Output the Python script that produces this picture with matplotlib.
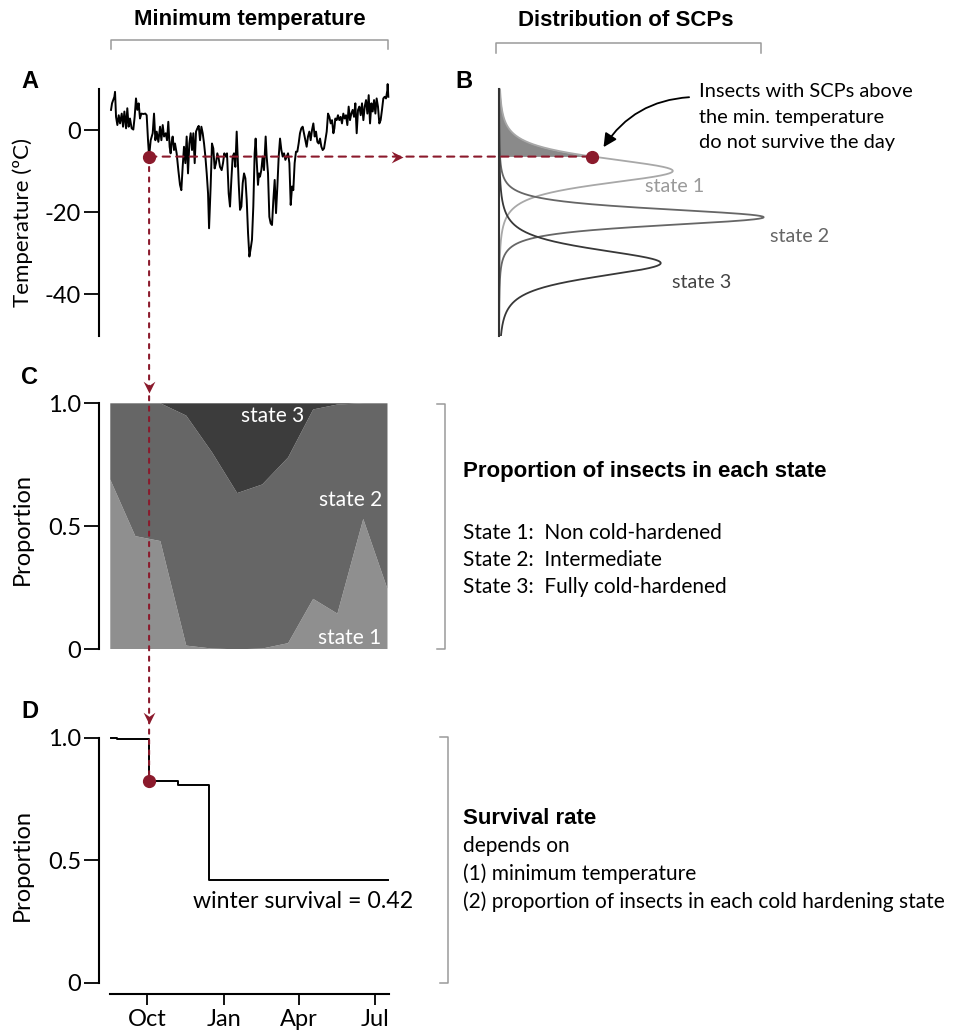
import numpy as np
import matplotlib.pyplot as plt
from matplotlib.patches import ConnectionPatch
from matplotlib.lines import Line2D
from matplotlib.path import Path
from matplotlib.markers import MarkerStyle

plt.rcParams['font.family'] = ['Lato', 'DejaVu Sans']
plt.rcParams['axes.unicode_minus'] = False

# daily minimum temperature (days counted from 1 Oct)
temp_day = [-43.1, -41.9, -39.1, -38.3, -37.1, -35.5, -33.9, -32.3, -30.3, -28.7,
            -27.1, -25.1, -23.6, -22.0, -20.4, -18.4, -16.4, -14.8, -13.2, -11.6,
            -10.0, -8.4, -6.8, -4.4, -2.0, -0.4, 1.2, 2.5, 4.4, 6.8,
            8.4, 10.0, 11.6, 13.6, 15.6, 17.2, 18.8, 20.4, 22.4, 24.0,
            25.5, 27.1, 28.3, 29.5, 30.7, 32.3, 33.5, 35.5, 37.5, 39.5,
            41.1, 42.7, 44.3, 45.9, 47.5, 49.1, 50.7, 52.3, 53.9, 55.5,
            57.1, 58.7, 60.3, 61.9, 63.5, 65.1, 66.7, 68.3, 69.9, 71.5,
            73.1, 74.3, 76.2, 77.8, 79.4, 81.0, 82.6, 84.2, 85.8, 87.4,
            89.4, 91.0, 92.6, 94.2, 95.8, 97.8, 99.4, 101.0, 102.6, 104.2,
            105.8, 107.4, 108.6, 109.8, 111.4, 113.0, 114.6, 116.2, 117.8, 119.4,
            121.0, 122.6, 124.2, 125.7, 127.3, 128.9, 130.1, 131.3, 132.9, 134.1,
            135.3, 136.9, 138.5, 140.1, 142.1, 143.3, 144.9, 146.5, 148.1, 149.7,
            151.3, 152.9, 154.5, 156.1, 157.7, 159.3, 160.9, 162.5, 164.1, 165.7,
            167.3, 168.9, 170.5, 172.1, 173.7, 175.2, 176.8, 178.4, 180.0, 181.6,
            183.2, 184.8, 186.4, 188.0, 189.6, 191.2, 192.8, 194.4, 196.0, 197.6,
            199.2, 200.8, 202.4, 204.0, 205.6, 207.2, 208.8, 210.4, 212.0, 213.6,
            215.2, 216.8, 218.4, 220.0, 221.6, 223.2, 224.4, 225.5, 227.1, 228.7,
            230.3, 231.9, 233.5, 235.1, 236.7, 238.3, 239.9, 241.5, 243.1, 244.7,
            246.3, 247.9, 249.5, 251.1, 252.7, 254.3, 255.9, 257.5, 259.1, 260.7,
            262.3, 263.9, 265.5, 267.1, 268.7, 270.3, 271.9, 273.5, 275.0, 276.6,
            278.2, 279.8, 281.4, 283.0, 284.6, 286.2, 287.8, 288.2, 289.0]
temp_min = [5.0, 6.6, 8.2, 9.4, 3.3, 1.3, 3.7, 1.7, 4.1, 0.9,
            4.6, 0.5, 5.4, 0.9, 2.9, 0.5, 0.2, 3.3, 7.8, 5.0,
            6.6, 2.9, 4.1, 4.0, 4.1, 3.7, -2.4, -6.4, -2.4, -0.7,
            4.1, -2.4, -0.3, -2.8, 0.9, -2.4, 1.3, -1.5, -0.7, -2.4,
            2.1, -4.0, -5.6, -2.8, -1.5, -4.8, -3.2, -5.6, -9.7, -13.3,
            -14.6, -8.9, -4.0, -8.0, -1.5, -10.5, -3.2, -0.7, -4.8, -0.7,
            -8.0, -0.3, 0.5, 1.1, -2.4, 0.9, -0.7, -3.2, -6.4, -10.5,
            -15.4, -23.9, -13.7, -3.2, -4.4, -9.3, -8.0, -5.6, -6.8, -8.9,
            -9.7, -8.0, -5.6, -6.4, -5.6, -15.4, -18.6, -12.1, -6.4, -5.6,
            -8.9, -0.3, -6.4, -12.9, -19.4, -18.6, -12.9, -10.5, -11.7, -17.0,
            -25.1, -30.8, -28.8, -26.7, -18.6, -5.6, -2.0, -7.2, -13.3, -10.5,
            -11.3, -9.7, -6.4, -9.7, -1.5, -6.4, -10.5, -21.1, -22.7, -23.1,
            -17.0, -12.1, -20.2, -13.7, -6.4, -2.0, -4.8, -6.4, -5.6, -7.2,
            -6.4, -5.6, -8.0, -18.2, -13.7, -14.6, -8.0, -5.2, -5.2, -3.2,
            -0.7, 0.5, 0.9, -0.7, -2.4, -4.0, -1.5, -0.3, -2.4, 0.1,
            1.7, -1.5, -0.3, -2.8, -3.2, -2.0, -4.0, -4.8, -4.4, -2.4,
            -0.3, 4.1, 3.3, 1.7, 2.5, -0.7, 0.5, 2.9, 2.5, 3.7,
            2.5, 3.3, 1.7, 4.1, 2.9, 3.7, 1.3, 5.8, 2.5, 4.1,
            5.0, 3.3, 6.6, -0.7, 5.0, 5.8, 3.7, 6.6, 2.5, 5.8,
            7.4, 4.1, 8.6, 1.7, 6.6, 4.6, 7.4, 4.1, 7.8, 5.8,
            1.7, 2.5, 5.0, 7.8, 8.2, 7.8, 9.8, 11.3, 8.2]

# day picked out in the example and its minimum temperature
pick_day = 2.5
pick_temp = -6.4

# supercooling point distributions (location, scale) for each state
scp_loc = [-9.9, -21.2, -32.4]
scp_scale = [3.35, 2.2, 3.6]
scp_names = ['state 1', 'state 2', 'state 3']

# monthly proportion of insects in each cold-hardening state
state_day = [-44, -14, 16, 47, 78, 108, 138, 169, 199, 228, 259, 288]
state1 = [0.69, 0.46, 0.44, 0.015, 0.003, 0.0, 0.003, 0.025, 0.205, 0.145, 0.53, 0.245]
state2 = [0.31, 0.54, 0.56, 0.935, 0.797, 0.635, 0.667, 0.755, 0.77, 0.85, 0.47, 0.755]
state3 = [0.0, 0.0, 0.0, 0.05, 0.2, 0.365, 0.33, 0.22, 0.025, 0.005, 0.0, 0.0]

# cumulative survival
surv_day = [-43, -36, 2.5, 37.5, 74, 289]
surv = [1.0, 0.995, 0.824, 0.805, 0.42, 0.42]

month_day = [0, 92, 182, 273]
month_lab = ['Oct', 'Jan', 'Apr', 'Jul']

RED = '#8b1a2c'
W, H = 968, 1036
fig = plt.figure(figsize=(W / 100, H / 100), dpi=100)


def rect(x0, y0, x1, y1):
    return [x0 / W, 1 - y1 / H, (x1 - x0) / W, (y1 - y0) / H]


def fx(x):
    return x / W


def fy(y):
    return 1 - y / H


def t3(y, loc, scale):
    z = (np.asarray(y) - loc) / scale
    return 2 / (np.pi * np.sqrt(3)) / scale * (1 + z * z / 3) ** -2


def clean(ax):
    for s in ['top', 'right', 'bottom']:
        ax.spines[s].set_visible(False)
    ax.spines['left'].set_linewidth(1.5)
    ax.tick_params(axis='y', length=11, width=1.3, labelsize=17, pad=2)
    ax.set_xticks([])
    ax.patch.set_alpha(0)


XLIM = (-57.5, 292.2)
TLIM = (-50.2, 12.3)

# A: minimum temperature
axA = fig.add_axes(rect(99, 80, 391, 336))
clean(axA)
axA.plot(temp_day, temp_min, color='black', lw=1.4, clip_on=False)
axA.plot(pick_day, pick_temp, 'o', color=RED, ms=8.5, zorder=5, clip_on=False)
axA.set_xlim(XLIM)
axA.set_ylim(TLIM)
axA.spines['left'].set_bounds(-50.2, 10)
axA.set_yticks([0, -20, -40])
axA.set_ylabel('Temperature (ºC)', fontsize=16)
axA.yaxis.set_label_coords(-0.225, 0.445)

# B: SCP distributions
axB = fig.add_axes(rect(499, 80, 800, 336))
clean(axB)
axB.spines['left'].set_color('#333333')
axB.set_yticks([])
axB.set_xlim(0, 0.19)
axB.set_ylim(TLIM)
axB.spines['left'].set_bounds(-50.2, 10)
yy = np.linspace(-50.2, 10, 800)
line_cols = ['#a8a8a8', '#666666', '#383838']
text_cols = ['#9a9a9a', '#666666', '#444444']
label_pos = [(0.111, -13.6), (0.1895, -26.0), (0.1277, -37.2)]
top = yy[yy >= pick_temp]
axB.fill_betweenx(top, 0, t3(top, scp_loc[0], scp_scale[0]), color='#8a8a8a', lw=0)
for i in range(3):
    axB.plot(t3(yy, scp_loc[i], scp_scale[i]), yy, color=line_cols[i], lw=1.3)
    axB.text(label_pos[i][0], label_pos[i][1], scp_names[i], color=text_cols[i],
             fontsize=14.2, ha='center', va='center')
dot_x = float(t3(pick_temp, scp_loc[0], scp_scale[0]))
axB.plot(dot_x, pick_temp, 'o', color=RED, ms=8.5, zorder=5)
axB.annotate('', xy=(dot_x + 0.007, pick_temp + 2.3), xytext=(0.120, 8.1),
             arrowprops=dict(arrowstyle='-|>', color='black', lw=1.3,
                             connectionstyle='arc3,rad=0.25', mutation_scale=20,
                             shrinkA=0, shrinkB=0))
axB.text(0.126, 3.2, 'Insects with SCPs above\nthe min. temperature\ndo not survive the day',
         fontsize=14.4, ha='left', va='center', linespacing=1.6)

# C: proportion in each state
axC = fig.add_axes(rect(99, 403.3, 391, 649.3))
clean(axC)
axC.stackplot(state_day, state1, state2, state3,
              colors=['#8f8f8f', '#666666', '#3c3c3c'], lw=0)
axC.set_xlim(XLIM)
axC.set_ylim(0, 1)
axC.set_yticks([0, 0.5, 1.0])
axC.set_yticklabels(['0', '0.5', '1.0'])
axC.set_ylabel('Proportion', fontsize=17)
axC.yaxis.set_label_coords(-0.225, 0.489)
axC.text(151, 0.948, 'state 3', color='white', fontsize=15, ha='center', va='center')
axC.text(244, 0.607, 'state 2', color='white', fontsize=15, ha='center', va='center')
axC.text(243, 0.046, 'state 1', color='white', fontsize=15, ha='center', va='center')

# D: survival
axD = fig.add_axes(rect(99, 730, 391, 994))
clean(axD)
axD.plot(surv_day, surv, drawstyle='steps-post', color='black', lw=1.4)
axD.plot(surv_day[2], surv[2], 'o', color=RED, ms=8.5, zorder=5)
axD.set_xlim(XLIM)
axD.set_ylim(-0.046, 1.031)
axD.spines['left'].set_bounds(0, 1)
axD.spines['bottom'].set_visible(True)
axD.spines['bottom'].set_linewidth(1.5)
axD.spines['bottom'].set_bounds(-44, 290)
axD.set_yticks([0, 0.5, 1.0])
axD.set_yticklabels(['0', '0.5', '1.0'])
axD.set_xticks(month_day)
axD.set_xticklabels(month_lab)
axD.tick_params(axis='x', length=8, width=1.3, labelsize=17, pad=3)
axD.set_ylabel('Proportion', fontsize=17)
axD.yaxis.set_label_coords(-0.225, 0.489)
axD.text(55, 0.33, 'winter survival = %.2f' % surv[-1], fontsize=16.7, ha='left', va='center')

# red guide lines linking the panels
fig.add_artist(ConnectionPatch(xyA=(pick_day, pick_temp), coordsA=axA.transData,
                               xyB=(dot_x, pick_temp), coordsB=axB.transData,
                               color=RED, lw=1.5, linestyle=(0, (3.5, 3))))
fig.add_artist(ConnectionPatch(xyA=(pick_day, pick_temp), coordsA=axA.transData,
                               xyB=(surv_day[2], surv[2]), coordsB=axD.transData,
                               color=RED, lw=1.5, linestyle=(0, (2, 3))))

head_r = Path([(0, 0), (-1, 0.5), (-0.65, 0), (-1, -0.5), (0, 0)],
              [Path.MOVETO, Path.LINETO, Path.LINETO, Path.LINETO, Path.CLOSEPOLY])
head_d = Path([(0, 0), (0.5, 1), (0, 0.65), (-0.5, 1), (0, 0)],
              [Path.MOVETO, Path.LINETO, Path.LINETO, Path.LINETO, Path.CLOSEPOLY])
axA.plot(306.6, pick_temp, marker=MarkerStyle(head_r), ms=17, color=RED, mew=0, clip_on=False, zorder=6)
axC.plot(pick_day, 1.041, marker=MarkerStyle(head_d), ms=17, color=RED, mew=0, clip_on=False, zorder=6)
axD.plot(pick_day, 1.055, marker=MarkerStyle(head_d), ms=17, color=RED, mew=0, clip_on=False, zorder=6)


def line(xs, ys):
    fig.add_artist(Line2D([fx(x) for x in xs], [fy(y) for y in ys],
                          transform=fig.transFigure, color='#9a9a9a', lw=1.1))


# brackets
line([111, 111, 388, 388], [49, 40, 40, 49])
line([496, 496, 761, 761], [52.7, 43.3, 43.3, 52.7])
line([437, 445, 445, 437], [404, 404, 649, 649])
line([440, 448, 448, 440], [737, 737, 983, 983])

bold = dict(family='Liberation Sans', fontweight='bold')
fig.text(fx(250), fy(19), 'Minimum temperature', fontsize=16, ha='center', va='center', **bold)
fig.text(fx(626), fy(21), 'Distribution of SCPs', fontsize=16, ha='center', va='center', **bold)
for lab, x, y in [('A', 30, 81), ('B', 464, 81), ('C', 30, 377), ('D', 30, 711)]:
    fig.text(fx(x), fy(y), lab, fontsize=17, ha='center', va='center', **bold)

fig.text(fx(463), fy(472), 'Proportion of insects in each state', fontsize=16, ha='left', va='center', **bold)
fig.text(fx(463), fy(560), 'State 1:  Non cold-hardened\nState 2:  Intermediate\nState 3:  Fully cold-hardened',
         fontsize=15, ha='left', va='center', linespacing=1.45)
fig.text(fx(463), fy(819), 'Survival rate', fontsize=16, ha='left', va='center', **bold)
fig.text(fx(463), fy(874), 'depends on\n(1) minimum temperature\n(2) proportion of insects in each cold hardening state',
         fontsize=15, ha='left', va='center', linespacing=1.45)

fig.savefig('out.png', dpi=100)
